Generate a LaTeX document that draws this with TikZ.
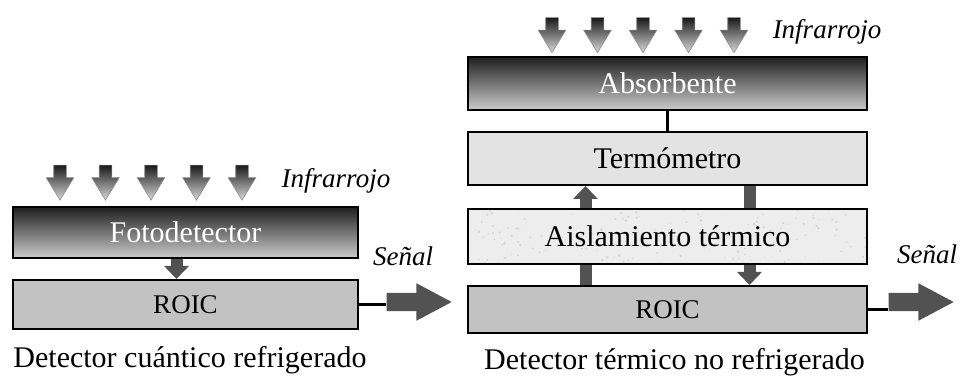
\documentclass[tikz,border=0pt]{standalone}
\usepackage{fontspec}
\setmainfont{Liberation Serif}
\usetikzlibrary{positioning,shapes.arrows,arrows.meta,backgrounds}

\begin{document}
\begin{tikzpicture}[x=1pt, y=-1pt
% Layer style
		, layer/.style={rectangle
							    , draw=black, line width=2pt
							    , minimum width=399pt
							    , minimum height=53pt
							    , inner sep=0pt
							    , font=\fontsize{30}{34}\selectfont}
		, dark/.style={layer
							    , top color=black!88
							    , bottom color=black!20
							    , text=white}
		, roic/.style={layer, fill=black!24
							    , font=\fontsize{27}{31}\selectfont}
		, light/.style={layer, fill=black!11}
		, insul/.style={layer, fill=black!7
							    , path picture={\pgfmathsetseed{5}
							        \foreach \k in {1,...,160}
							          \fill [black!16] ([shift={({(rnd-0.5)*400},{(rnd-0.5)*56})}]path picture bounding box.center) circle (0.4pt+rnd*1.1pt);}}
% Arrows style
		, ir/.style={single arrow
							    , shape border rotate=270
							    , draw=black!45, line width=0.6pt
							    , top color=black!90
							    , bottom color=black!15
							    , minimum height=35pt
							    , inner sep=6pt
							    , single arrow head extend=7.5pt
							    , single arrow tip angle=63}
		, signal/.style={single arrow
							    , fill=black!68
							    , minimum height=65pt
							    , inner sep=9pt
							    , single arrow head extend=9.5pt
							    , single arrow tip angle=56}
		, flow/.style={draw=black!68, line width=12pt
							    , -{Triangle[length=13pt, width=24pt]}}
		, wire/.style={draw=black, line width=3.5pt}
% Texts style
		, tag/.style={font=\fontsize{27}{31}\selectfont\itshape
							    , inner sep=0pt, anchor=base}
		, caption/.style={font=\fontsize{30}{34}\selectfont
							    , inner sep=0pt, anchor=base}
	]
	\useasboundingbox (0,0) rectangle (961,379);

%% Cooled quantum detector
	\node [dark, minimum width=345pt, minimum height=51pt] (q1) at (185.5,232.5) {Fotodetector};
	\node [roic, minimum width=345pt, minimum height=49pt, below=20pt of q1] (q2) {ROIC};
	\draw [flow] ([xshift=-9pt]q1.south) -- ([xshift=-9pt]q2.north);

	\foreach \i in {0,...,4}
		\node [ir] (qir\i) at (60+45.5*\i,177.5) {};
	\node [tag] (qirt) at (336,188) {Infrarrojo};

	\node [signal] (q2s) at (410.5,302) {};
	\draw [wire] (q2.east) -- (q2.east -| q2s.tail);
	\node [tag] (q2st) at (403,266) {Señal};

	\node [caption] (q0) at (190,367) {Detector cuántico refrigerado};

%% Uncooled thermal detector
	\node [dark] (t1) at (667.5,83.5) {Absorbente};
	\node [light, below=20pt of t1] (t2) {Termómetro};
	\node [insul, minimum height=55pt, below=22pt of t2] (t3) {Aislamiento térmico};
	\node [roic, minimum height=47pt, below=20pt of t3] (t4) {ROIC};
	\draw [wire, line width=3pt] (t1) -- (t2);

	\begin{scope}[on background layer]
		\draw [flow] ([xshift=-82pt]t4.north) -- ([xshift=-82pt]t2.south);
		\draw [flow] ([xshift=82pt]t2.south) -- ([xshift=82pt]t4.north);
	\end{scope}

	\foreach \i in {0,...,4}
		\node [ir] (tir\i) at (552+45.5*\i,30) {};
	\node [tag] (tirt) at (827,39) {Infrarrojo};

	\node [signal] (t4s) at (912.5,302) {};
	\draw [wire] (t4.east) -- (t4.east -| t4s.tail);
	\node [tag] (t4st) at (927,264) {Señal};

	\node [caption] (t0) at (674.5,369) {Detector térmico no refrigerado};
\end{tikzpicture}
\end{document}
